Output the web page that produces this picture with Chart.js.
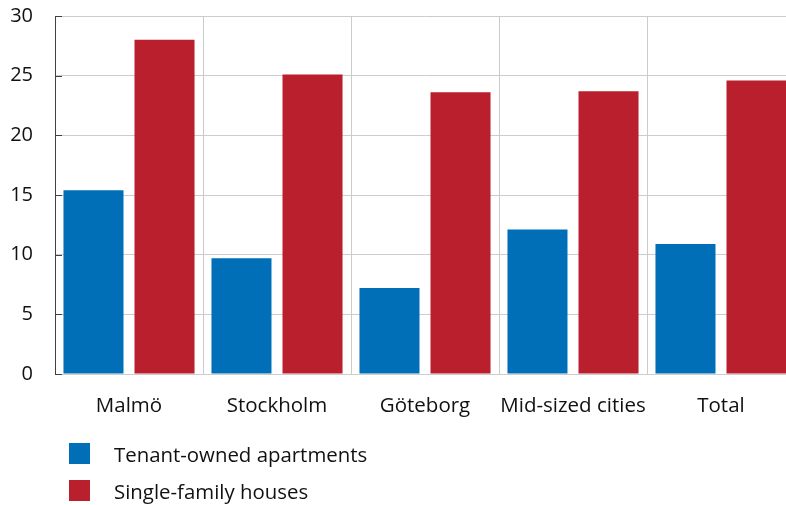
<!DOCTYPE html>
<html>
<head>
<meta charset="utf-8">
<script src="https://cdn.jsdelivr.net/npm/chart.js@4"></script>
<style>
    body { margin: 0; overflow: hidden; background: #fff; font-family: "Open Sans", sans-serif; }
    #wrap { position: relative; width: 800px; height: 505px; overflow: hidden; }
    #barChart { position: absolute; left: 0; top: -18px; }
    #legend { position: absolute; left: 69px; top: 443px; }
    .item { display: flex; align-items: center; height: 21px; margin-bottom: 16px; font-size: 20.4px; color: #111; }
    .box { width: 21px; height: 21px; margin-right: 24px; }
</style>
</head>
<body>
<div id="wrap">
    <canvas id="barChart" width="800" height="523"></canvas>
    <div id="legend"></div>
</div>
<script>
// 데이터
const categories = ['Malmö', 'Stockholm', 'Göteborg', 'Mid-sized cities', 'Total'];
const seriesNames = ['Tenant-owned apartments', 'Single-family houses'];
const tenantOwned = [15.4, 9.7, 7.2, 12.1, 10.9];
const singleFamily = [28.0, 25.1, 23.6, 23.7, 24.6];
const yTicks = [0, 5, 10, 15, 20, 25, 30];

const colors = ['#006fb8', '#b91f2d'];
const FONT = '"Open Sans", sans-serif';

// y축 안쪽으로 짧은 눈금 그리기
const innerTicks = {
    id: 'innerTicks',
    afterDraw(chart) {
        const y = chart.scales.y;
        const ctx = chart.ctx;
        ctx.save();
        ctx.strokeStyle = '#404040';
        ctx.lineWidth = 1;
        yTicks.forEach(v => {
            const py = Math.round(y.getPixelForValue(v)) + 0.5;
            ctx.beginPath();
            ctx.moveTo(y.right, py);
            ctx.lineTo(y.right + 7, py);
            ctx.stroke();
        });
        ctx.restore();
    }
};

const ctx = document.getElementById('barChart').getContext('2d');
const myChart = new Chart(ctx, {
    type: 'bar',
    data: {
        labels: categories,
        datasets: [
            { label: seriesNames[0], data: tenantOwned, backgroundColor: colors[0] },
            { label: seriesNames[1], data: singleFamily, backgroundColor: colors[1] }
        ]
    },
    options: {
        responsive: false,
        animation: false,
        categoryPercentage: 0.96,
        barPercentage: 0.845,
        layout: { padding: { top: 0, right: 5, left: 0, bottom: 0 } },
        plugins: {
            legend: { display: false },
            tooltip: { enabled: false }
        },
        scales: {
            x: {
                grid: { color: '#cccccc', drawTicks: false, offset: true },
                border: { color: '#cccccc' },
                ticks: { color: '#111', font: { family: FONT, size: 20.5 }, padding: 20, maxRotation: 0, autoSkip: false },
                afterFit(scale) { scale.height = 131; }
            },
            y: {
                min: 0,
                max: 30,
                afterBuildTicks(scale) { scale.ticks = yTicks.map(v => ({ value: v })); },
                grid: { color: '#cccccc', drawTicks: false },
                border: { color: '#404040' },
                ticks: { color: '#111', font: { family: FONT, size: 20 }, padding: 22 },
                afterFit(scale) { scale.width = 55; }
            }
        }
    },
    plugins: [innerTicks]
});

// 범례 (세로 배치)
const legend = document.getElementById('legend');
seriesNames.forEach((name, i) => {
    const row = document.createElement('div');
    row.className = 'item';
    row.innerHTML = `<span class="box" style="background:${colors[i]}"></span><span>${name}</span>`;
    legend.appendChild(row);
});
</script>
</body>
</html>
